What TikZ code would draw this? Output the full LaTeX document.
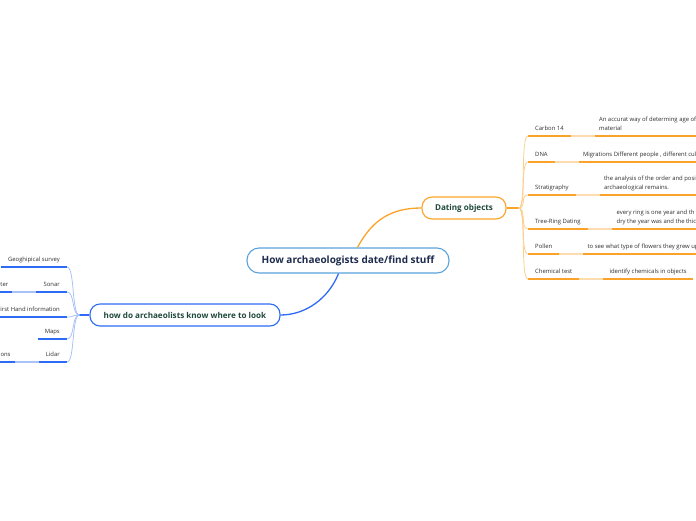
\documentclass[tikz,border=0pt]{standalone}
\usepackage{fontspec}
\setmainfont{Open Sans}
\usepackage{xcolor}
\usepackage{tikz}
\usetikzlibrary{positioning}
\definecolor{cO}{HTML}{FBA328}
\definecolor{cOl}{HTML}{FDDDB0}
\definecolor{cOt}{HTML}{FDCF8E}
\definecolor{cB}{HTML}{2D6BF5}
\definecolor{cBl}{HTML}{A9C2FA}
\definecolor{cRoot}{HTML}{5AA2DC}
\definecolor{cNavy}{HTML}{1D2B4C}
\definecolor{cGreen}{HTML}{1F4A3A}
\definecolor{ink}{HTML}{2E2E2E}
\tikzset{
  bubble/.style={draw,fill=white,line width=1.1pt,rounded corners=10pt,inner sep=0pt,
    font=\fontsize{8.1}{9}\selectfont\bfseries,text=cGreen},
  leaf/.style={inner xsep=7pt,inner ysep=3.6pt,text depth=1.4pt,
    font=\fontsize{5.9}{9}\selectfont,text=ink},
  desc/.style={inner xsep=4pt,align=left,minimum width=89pt},
  uline/.style={line width=1.3pt},
  twig/.style={line width=0.8pt}}
\newcommand{\twigR}[5][edge]{% [end of text line] <name> <y> <label> <text>
  \node[leaf,anchor=south west] (#2) at (528,#3) {#4};
  \node[leaf,desc,right=24pt of #2.south east,anchor=south west] (#2d) {#5};
  \draw[uline,cO] (#2.south west) -- (#2.south east);
  \draw[uline,cOl] (#2.south east) -- (#2d.south west);
  \draw[uline,cO] (#2d.south west) -- (#2d.south west -| #1);
  \draw[twig,cOt] (rhub) .. controls +(8,0) and +(-8,0) .. (#2.south west);}
\newcommand{\twigL}[3]{% <name> <y> <label>
  \node[leaf,anchor=south east,align=right] (#1) at (67,#2) {#3};
  \draw[uline,cB] (#1.south west) -- (#1.south east);
  \draw[twig,cBl] (lhub) .. controls +(-8,0) and +(8,0) .. (#1.south east);}

\begin{document}
\begin{tikzpicture}[x=1pt,y=-1pt]
  \useasboundingbox (0,0) rectangle (696,520);
  \clip (0,0) rectangle (696,520);
  \coordinate (edge) at (710,0);
  % main ideas
  \node[bubble,draw=cRoot,text=cNavy,minimum width=202pt,minimum height=25pt,rounded corners=12pt,
    font=\fontsize{10}{11}\selectfont\bfseries] (root) at (348,260.5) {How archaeologists date/find stuff};
  \node[bubble,draw=cO,minimum width=84pt,minimum height=22pt] (dating) at (464,208) {Dating objects};
  \node[bubble,draw=cB,minimum width=190pt,minimum height=22pt] (look) at (185,315) {how do archaeolists know where to look};
  \draw[line width=1.3pt,cO] (root.54) .. controls +(15,-28) and +(-30,0) .. (dating.west);
  \draw[line width=1.3pt,cB] (root.-126) .. controls +(-10,25) and +(25,0) .. (look.east);
  \coordinate[right=12pt of dating.east] (rhub);
  \coordinate[left=10pt of look.west] (lhub);
  \draw[uline,cO] (dating.east) -- (rhub);
  \draw[uline,cB] (look.west) -- (lhub);
  % dating objects
  \twigR{carbon}{136}{Carbon 14}{An accurat way of determing age of\\material}
  \twigR{dna}{162}{DNA}{Migrations Different people , different cul}
  \twigR{strata}{195}{Stratigraphy}{the analysis of the order and posi\\archaeological remains.}
  \twigR{rings}{229}{Tree-Ring Dating}{every ring is one year and th\\dry the year was and the thic}
  \twigR{pollen}{254}{Pollen}{to see what type of flowers they grew up}
  \twigR[chemd.east]{chem}{279}{Chemical test}{identify chemicals in objects}
  % where to look
  \twigL{geo}{267}{Geoghipical survey}
  \twigL{sonar}{292}{Sonar}
  \twigL{hand}{317}{First Hand information}
  \twigL{maps}{339}{Maps}
  \twigL{lidar}{362}{Lidar}
  \foreach \n/\t in {sonar/ater,lidar/tions} {
    \node[leaf,inner xsep=4pt,left=24pt of \n.south west,anchor=south east] (\n d) {\t};
    \draw[uline,cBl] (\n d.south east) -- (\n.south west);
    \draw[uline,cB] (\n d.south west) -- (\n d.south east);
  }
\end{tikzpicture}
\end{document}
